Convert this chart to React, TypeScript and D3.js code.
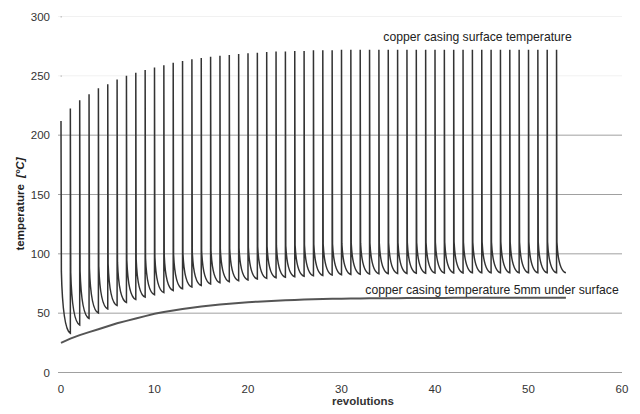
import React from 'react';
import * as d3 from 'd3';

const xTicks = [0, 10, 20, 30, 40, 50, 60];
const yTicks = [0, 50, 100, 150, 200, 250, 300];
const fadedGridTicks = [250, 300];

// surface temperature: one spike per revolution (x = 0..53)
const spikePeaks = [
  212, 222.5, 229.5, 234.5, 239.5, 243, 247, 250, 252.5, 255,
  257, 259, 261, 262.5, 264, 265, 266, 267, 267.5, 268.5,
  269, 269.5, 270, 270.5, 270.5, 271, 271, 271.5, 271.5, 271.5,
  272, 272, 272, 272, 272, 272, 272, 272, 272, 272,
  272, 272, 272, 272, 272, 272, 272, 272, 272, 272,
  272, 272, 272, 272,
];
// value right after the sharp drop following each spike
const spikeKnees = [
  85, 84, 85.5, 88, 89.5, 91.5, 93, 94.5, 95.5, 96.5,
  97.3, 98.5, 99.5, 100.5, 101.5, 102.5, 103.3, 104, 104.5, 105,
  105.5, 106, 106.3, 106.7, 107, 107.3, 107.6, 107.9, 108.2, 108.4,
  108.6, 108.8, 109, 109.2, 109.3, 109.4, 109.5, 109.6, 109.7, 109.8,
  109.8, 109.9, 109.9, 110, 110, 110, 110, 110, 110, 110,
  110, 110, 110, 110,
];
// minimum reached at the end of each revolution (x = 1..54)
const spikeTroughs = [
  33, 40, 45.5, 50, 53.5, 56.5, 59, 61.5, 63.5, 65.5,
  67.3, 69, 70.5, 72, 73.3, 74.5, 75.6, 76.5, 77.3, 78,
  78.7, 79.3, 79.8, 80.3, 80.7, 81.1, 81.5, 81.8, 82.1, 82.4,
  82.6, 82.8, 83, 83.2, 83.3, 83.4, 83.5, 83.6, 83.7, 83.8,
  83.8, 83.9, 83.9, 84, 84, 84, 84, 84, 84, 84,
  84, 84, 84, 84,
];
// temperature 5mm under surface at x = 0..54
const subsurface = [
  25, 28.5, 31.5, 34, 36.5, 39, 41.5, 43.5, 45.5, 47.5,
  49.5, 51, 52.3, 53.5, 54.6, 55.6, 56.5, 57.3, 58, 58.6,
  59.2, 59.7, 60.1, 60.5, 60.9, 61.2, 61.5, 61.7, 61.9, 62.1,
  62.2, 62.3, 62.4, 62.5, 62.5, 62.6, 62.6, 62.7, 62.7, 62.8,
  62.8, 62.8, 62.9, 62.9, 62.9, 63, 63, 63, 63, 63,
  63, 63, 63, 63, 63,
];

const surfaceLabel = 'copper casing surface temperature';
const subsurfaceLabel = 'copper casing temperature 5mm under surface';
const xTitle = 'revolutions';
const yTitle = 'temperature';
const yUnit = '[°C]';

const W = 640;
const H = 414;
const FONT = '"Liberation Sans", Arial, Helvetica, sans-serif';

export default function App() {
  const x = d3.scaleLinear().domain([0, 60]).range([61, 622]);
  const y = d3.scaleLinear().domain([0, 300]).range([372.5, 16.5]);

  // surface line
  const p = d3.path();
  spikePeaks.forEach((peak, k) => {
    const T = spikeTroughs[k];
    const K = spikeKnees[k];
    const D = K - T;
    if (k === 0) p.moveTo(x(k), y(peak));
    else p.lineTo(x(k), y(peak));
    p.lineTo(x(k + 0.04), y(K));
    p.bezierCurveTo(x(k + 0.14), y(T + 0.4 * D), x(k + 0.5), y(T + 0.04 * D), x(k + 1), y(T));
  });

  const sub = d3
    .line<number>()
    .x((_, i) => x(i))
    .y((d) => y(d))
    .curve(d3.curveLinear)(subsurface) as string;

  const gridLeft = 58;
  const gridRight = x(60);

  return (
    <svg
      width={W}
      height={H}
      style={{ position: 'absolute', left: 0, top: 0, background: '#fff' }}
      fontFamily={FONT}
    >
      <rect x={0} y={0} width={W} height={H} fill="#fff" />
      {yTicks.map((t) => (
        <line
          key={'g' + t}
          x1={gridLeft}
          x2={gridRight}
          y1={y(t)}
          y2={y(t)}
          stroke={fadedGridTicks.includes(t) ? '#f1f1f1' : '#a0a0a0'}
          strokeWidth={1}
        />
      ))}
      {fadedGridTicks.map((t) => (
        <rect key={'d' + t} x={60.5} y={y(t) - 0.5} width={1.5} height={1.5} fill="#c8c8c8" />
      ))}
      {yTicks.map((t) => (
        <text key={'yl' + t} x={50} y={y(t) + 4} textAnchor="end" fontSize={11.5} fill="#333">
          {t}
        </text>
      ))}
      {xTicks.map((t) => (
        <text key={'xl' + t} x={x(t)} y={393} textAnchor="middle" fontSize={11.5} fill="#333">
          {t}
        </text>
      ))}
      <text x={363} y={405} textAnchor="middle" fontSize={11.5} fontWeight="bold" fill="#333">
        {xTitle}
      </text>
      <text
        transform={`translate(24, 204) rotate(-90)`}
        textAnchor="middle"
        fontSize={11.5}
        fontWeight="bold"
        fill="#222"
      >
        {yTitle}
        <tspan dx={6} fontStyle="italic">{yUnit}</tspan>
      </text>

      <path d={sub} fill="none" stroke="#555" strokeWidth={2} />
      <path d={p.toString()} fill="none" stroke="#333" strokeWidth={1.5} />

      <text x={477.5} y={41} textAnchor="middle" fontSize={12.2} fill="#222">
        {surfaceLabel}
      </text>
      <text x={492} y={294} textAnchor="middle" fontSize={12.2} fill="#222">
        {subsurfaceLabel}
      </text>
    </svg>
  );
}
